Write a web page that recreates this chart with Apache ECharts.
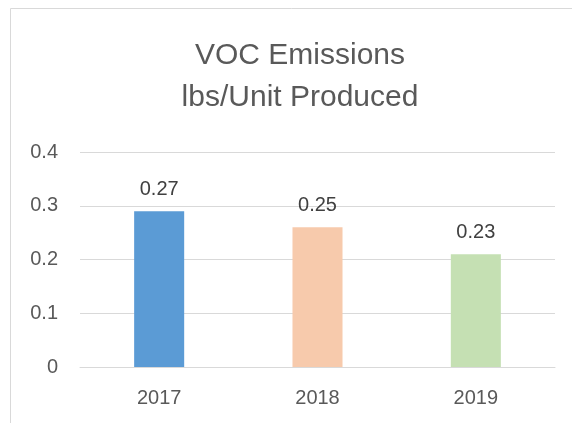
<!DOCTYPE html>
<html><head><meta charset="utf-8">
<script src="https://cdn.jsdelivr.net/npm/echarts@6/dist/echarts.min.js"></script>
<style>html,body{margin:0;padding:0;background:#fff}#c{width:572px;height:423px}</style>
</head><body><div id="c"></div>
<script>
const categories = ['2017', '2018', '2019'];
const values = [0.29, 0.26, 0.21];
const valueLabels = ['0.27', '0.25', '0.23'];
const barColors = ['#5B9BD5', '#F7CAAC', '#C5E0B3'];
const yTicks = [0, 0.1, 0.2, 0.3, 0.4];

const chart = echarts.init(document.getElementById('c'));
const font = 'Liberation Sans, Arial, sans-serif';
chart.setOption({
  animation: false,
  graphic: [{type:'rect', shape:{x:10.5, y:8.5, width:600, height:500}, style:{fill:'none', stroke:'#d9d9d9', lineWidth:1}}],
  title: {
    text: 'VOC Emissions\nlbs/Unit Produced',
    left: 295, top: 30, textAlign: 'center',
    textStyle: {fontFamily: font, fontSize: 30, fontWeight: 'normal', color: '#595959', lineHeight: 42}
  },
  grid: {left: 80, right: 17, top: 152, bottom: 56},
  xAxis: {
    type: 'category', data: categories,
    axisLine: {lineStyle: {color: '#d9d9d9', width: 1}},
    axisTick: {show: false},
    axisLabel: {fontFamily: font, fontSize: 20, color: '#595959', margin: 21}
  },
  yAxis: {
    type: 'value', min: yTicks[0], max: yTicks[yTicks.length-1], interval: 0.1,
    axisLine: {show: false}, axisTick: {show: false},
    splitLine: {lineStyle: {color: '#d9d9d9', width: 1}},
    axisLabel: {fontFamily: font, fontSize: 20, color: '#595959', margin: 22,
      formatter: v => String(+v.toFixed(1))}
  },
  series: [{
    type: 'bar', barWidth: '31.6%',
    data: values.map((v, i) => ({value: v, itemStyle: {color: barColors[i]}})),
    label: {show: true, position: 'top', distance: 12, fontFamily: font, fontSize: 20, color: '#404040',
      formatter: p => valueLabels[p.dataIndex]}
  }]
});
</script></body></html>
